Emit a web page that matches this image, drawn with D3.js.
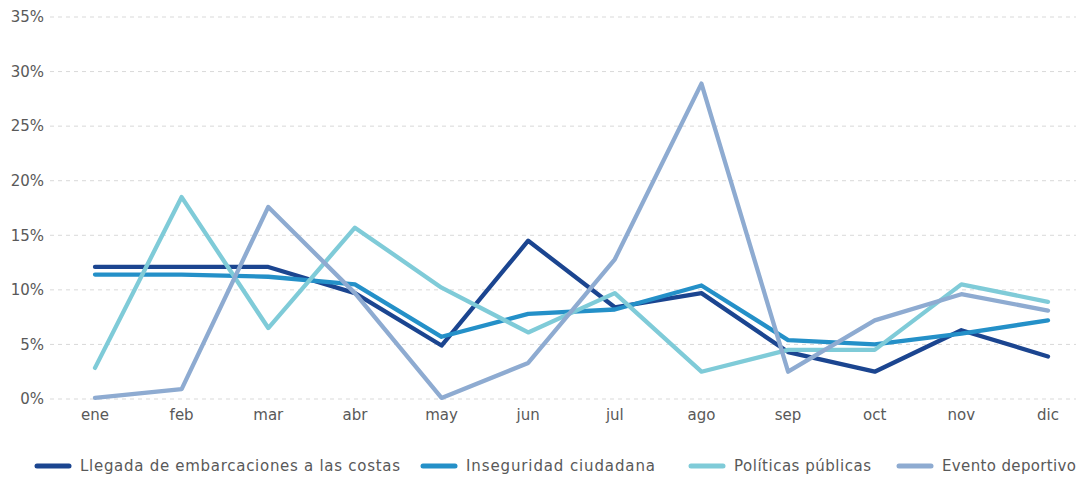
<!DOCTYPE html>
<html><head><meta charset="utf-8">
<script src="https://cdn.jsdelivr.net/npm/d3@7"></script>
<style>body{margin:0;background:#fff}svg{display:block}</style>
</head><body>
<svg id="c" width="1076" height="478"></svg>
<script>
const months = ["ene","feb","mar","abr","may","jun","jul","ago","sep","oct","nov","dic"];
const yTicks = [0,5,10,15,20,25,30,35];
const seriesNames = ["Llegada de embarcaciones a las costas","Inseguridad ciudadana","Políticas públicas","Evento deportivo"];
const llegada = [12.1,12.1,12.1,9.7,4.9,14.5,8.4,9.7,4.3,2.5,6.3,3.9];
const inseguridad = [11.4,11.4,11.2,10.5,5.7,7.8,8.2,10.4,5.4,5.0,6.0,7.2];
const politicas = [2.85,18.5,6.5,15.7,10.2,6.1,9.7,2.5,4.5,4.5,10.5,8.9];
const evento = [0.1,0.9,17.6,9.7,0.1,3.3,12.8,28.9,2.5,7.2,9.6,8.1];
const colors = ["#1b4590","#2490c8","#7fcbd8","#8eabd1"];
const values = [llegada, inseguridad, politicas, evento];

const svg = d3.select("#c");
const font = "'DejaVu Sans', 'Noto Sans', sans-serif";
const x = d3.scalePoint().domain(months).range([95,1048]);
const y = d3.scaleLinear().domain([0,35]).range([399,17]);

svg.append("g").selectAll("line").data(yTicks).join("line")
  .attr("x1",50).attr("x2",1076).attr("y1",d=>y(d)).attr("y2",d=>y(d))
  .attr("stroke","#d9d9d9").attr("stroke-width",1).attr("stroke-dasharray","4,4");

svg.append("g").selectAll("text").data(yTicks).join("text")
  .attr("x",44).attr("y",d=>y(d)).attr("dy","0.35em").attr("text-anchor","end")
  .attr("font-family",font).attr("font-size",15).attr("fill","#595959")
  .text(d=>d+"%");

svg.append("g").selectAll("text").data(months).join("text")
  .attr("x",d=>x(d)).attr("y",420).attr("text-anchor","middle")
  .attr("font-family",font).attr("font-size",15).attr("fill","#595959")
  .text(d=>d);

const line = d3.line().x((d,i)=>x(months[i])).y(d=>y(d));
values.forEach((v,k)=>{
  svg.append("path").datum(v).attr("d",line).attr("fill","none")
    .attr("stroke",colors[k]).attr("stroke-width",4.3).attr("stroke-linejoin","round").attr("stroke-linecap","round");
});

const legX = [35,421,689,897];
const legW = [320,189,137,134];
const lg = svg.append("g").selectAll("g").data(seriesNames).join("g")
  .attr("transform",(d,i)=>`translate(${legX[i]},466)`);
lg.append("line").attr("x1",2).attr("x2",34).attr("y1",0).attr("y2",0)
  .attr("stroke",(d,i)=>colors[i]).attr("stroke-width",5).attr("stroke-linecap","round");
lg.append("text").attr("x",45).attr("y",0).attr("dy","0.35em")
  .attr("font-family",font).attr("font-size",15).attr("fill","#595959")
  .attr("textLength",(d,i)=>legW[i]).attr("lengthAdjust","spacing").text(d=>d);
</script>
</body></html>
